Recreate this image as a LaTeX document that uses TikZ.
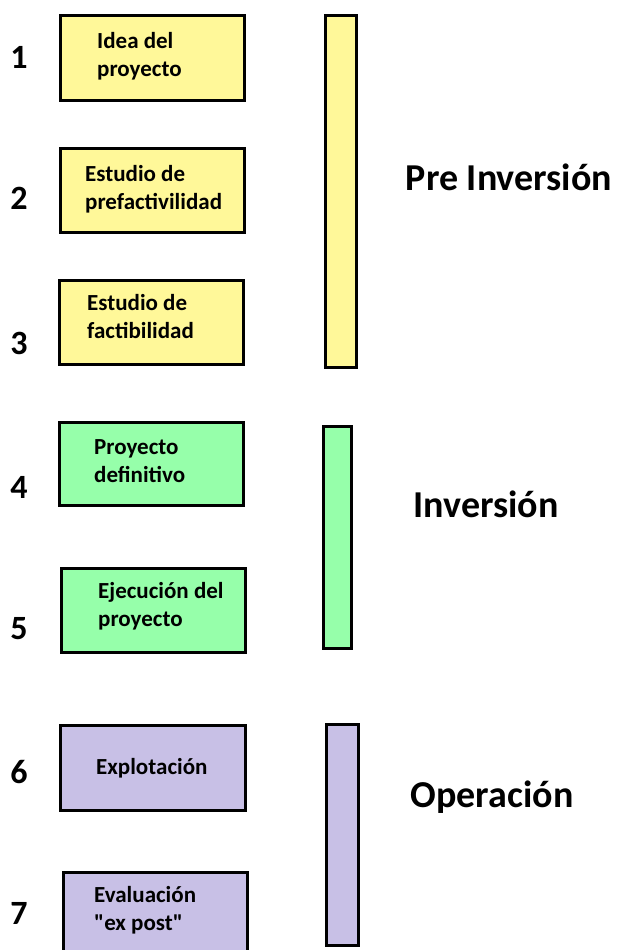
\documentclass[tikz,border=0pt]{standalone}
\usepackage{fontspec}
\defaultfontfeatures{}
\defaultfontfeatures[\rmfamily]{}
\setmainfont[Ligatures={ResetAll}]{Carlito}
\definecolor{pyellow}{RGB}{255,248,153}
\definecolor{pgreen}{RGB}{150,255,170}
\definecolor{ppurple}{RGB}{200,192,230}
\begin{document}
\begin{tikzpicture}[x=1pt,y=-1pt,
  box/.style={draw=black,line width=3pt,inner sep=0pt},
  txt/.style={anchor=west,align=left,inner sep=0pt,font=\fontsize{23}{28}\selectfont\bfseries},
  num/.style={anchor=center,inner sep=0pt,font=\fontsize{34}{34}\selectfont\bfseries},
  phase/.style={anchor=center,inner sep=0pt,font=\fontsize{38}{38}\selectfont\bfseries}]
\useasboundingbox (0,0) rectangle (618,950);
% boxes
\path[box,fill=pyellow] (60,16) rectangle (244,100) coordinate (b1);
\path[box,fill=pyellow] (60,148) rectangle (244,232) coordinate (b2);
\path[box,fill=pyellow] (59,280) rectangle (243,364) coordinate (b3);
\path[box,fill=pgreen] (59,422) rectangle (243,505) coordinate (b4);
\path[box,fill=pgreen] (61,568) rectangle (245,652) coordinate (b5);
\path[box,fill=ppurple] (60,725) rectangle (245,810) coordinate (b6);
\path[box,fill=ppurple] (63,872) rectangle (247,952) coordinate (b7);
% bars
\path[box,fill=pyellow] (325,16) rectangle (356,367) coordinate (bar1);
\path[box,fill=pgreen] (323,426) rectangle (351,648) coordinate (bar2);
\path[box,fill=ppurple] (326,724) rectangle (358,945) coordinate (bar3);
% box texts
\node[txt] (t1) at (97,56) {Idea del\\proyecto};
\node[txt] (t2) at (85,189) {Estudio de\\prefactivilidad};
\node[txt] (t3) at (87,317) {Estudio de\\factibilidad};
\node[txt] (t4) at (94,461) {Proyecto\\definitivo};
\node[txt] (t5) at (98,606) {Ejecución del\\proyecto};
\node[txt] (t6) at (96,768) {Explotación};
\node[txt] (t7) at (94,910) {Evaluación\\"ex post"};
% numbers
\node[num] (n1) at (19,57) {1};
\node[num] (n2) at (19,198) {2};
\node[num] (n3) at (19,343) {3};
\node[num] (n4) at (19,487) {4};
\node[num] (n5) at (19,629) {5};
\node[num] (n6) at (19,772) {6};
\node[num] (n7) at (19,913) {7};
% phases
\node[phase] (p1) at (509,177) {Pre Inversión};
\node[phase] (p2) at (486,504) {Inversión};
\node[phase] (p3) at (492,797) {Operación};
\end{tikzpicture}
\end{document}
